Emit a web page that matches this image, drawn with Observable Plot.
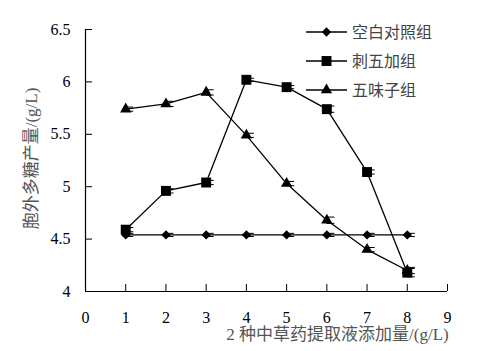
<!DOCTYPE html>
<html>
<head>
<meta charset="utf-8">
<script src="https://cdn.jsdelivr.net/npm/d3@7"></script>
<script src="https://cdn.jsdelivr.net/npm/@observablehq/plot@0.6"></script>
<style>
  body { margin: 0; background: #fff; }
  #wrap { position: relative; width: 484px; height: 351px; }
  #legend { position: absolute; left: 300px; top: 18px; }
</style>
</head>
<body>
<div id="wrap"><div id="chart"></div><div id="legend"></div></div>
<script>
const xValues = [1, 2, 3, 4, 5, 6, 7, 8];
const seriesNames = ["空白对照组", "刺五加组", "五味子组"];
const controlValues = [4.54, 4.54, 4.54, 4.54, 4.54, 4.54, 4.54, 4.54];
const ciwujiaValues = [4.59, 4.96, 5.04, 6.02, 5.95, 5.74, 5.14, 4.18];
const wuweiziValues = [5.74, 5.79, 5.90, 5.49, 5.03, 4.68, 4.40, 4.20];
const controlErr = [0.015, 0.015, 0.015, 0.015, 0.015, 0.015, 0.015, 0.015];
const ciwujiaErr = [0.02, 0.02, 0.02, 0.015, 0.015, 0.03, 0.02, 0.04];
const wuweiziErr = [0.02, 0.025, 0.025, 0.02, 0.02, 0.03, 0.02, 0.03];
const xTicks = [0, 1, 2, 3, 4, 5, 6, 7, 8, 9];
const yTicks = [4, 4.5, 5, 5.5, 6, 6.5];
const xLabel = "2 种中草药提取液添加量/(g/L)";
const yLabel = "胞外多糖产量/(g/L)";
const symbols = ["diamond2", "square", "triangle"];
const radii = [4.2, 5.6, 4.2];

const valuesList = [controlValues, ciwujiaValues, wuweiziValues];
const errList = [controlErr, ciwujiaErr, wuweiziErr];
const data = [];
seriesNames.forEach((s, i) => {
  xValues.forEach((x, j) => {
    data.push({series: s, idx: i, x, y: valuesList[i][j], e: errList[i][j]});
  });
});

const serif = "'Liberation Serif', 'Times New Roman', serif";
const cjk = "'Liberation Serif', 'Noto Sans CJK SC', serif";

const marks = [
  Plot.ruleY([4], {stroke: "#000", strokeWidth: 1.2}),
  Plot.ruleX([0], {stroke: "#000", strokeWidth: 1.2}),
  Plot.axisX({ticks: xTicks.filter(d => d > 0), tickSize: -7, text: null, stroke: "#000"}),
  Plot.axisX({ticks: xTicks, tickSize: 0, tickPadding: 20, tickFormat: d => String(d),
              fontSize: 16, fontFamily: serif, fill: "#000", label: null}),
  Plot.axisY({ticks: yTicks, tickSize: -7, text: null, stroke: "#000"}),
  Plot.axisY({ticks: yTicks, tickSize: 0, tickPadding: 15, tickFormat: d => String(d),
              fontSize: 16, fontFamily: serif, fill: "#000", label: null}),
];
seriesNames.forEach((s, i) => {
  const d = data.filter(r => r.idx === i);
  marks.push(Plot.line(d, {x: "x", y: "y", stroke: "#000", strokeWidth: 1.3}));
  marks.push(Plot.ruleX(d, {x: "x", y1: r => r.y - r.e, y2: r => r.y + r.e, stroke: "#000", strokeWidth: 1}));
  marks.push(Plot.ruleY(d, {y: r => r.y + r.e, x1: "x", x2: r => r.x + 0.2, stroke: "#000", strokeWidth: 1}));
  marks.push(Plot.ruleY(d, {y: r => r.y - r.e, x1: "x", x2: r => r.x + 0.2, stroke: "#000", strokeWidth: 1}));
  marks.push(Plot.dot(d, {x: "x", y: "y", symbol: () => symbols[i], r: radii[i], fill: "#000", stroke: "none"}));
});
marks.push(Plot.text([xLabel], {frameAnchor: "bottom", textAnchor: "middle", lineAnchor: "middle",
  dy: 43, dx: 71, text: d => d, fontSize: 17, fontFamily: cjk, fill: "#555"}));
marks.push(Plot.text([yLabel], {frameAnchor: "left", textAnchor: "middle", lineAnchor: "middle",
  dx: -54, dy: -2, rotate: -90, text: d => d, fontSize: 17, fontFamily: cjk, fill: "#555"}));

const chart = Plot.plot({
  width: 484,
  height: 351,
  marginLeft: 85,
  marginRight: 37,
  marginTop: 29,
  marginBottom: 60,
  x: {domain: [0, 9], label: null},
  y: {domain: [4, 6.5], label: null},
  style: {background: "#fff", overflow: "visible"},
  marks
});
document.getElementById("chart").appendChild(chart);

// legend
const lg = d3.select("#legend").append("svg").attr("width", 180).attr("height", 90);
seriesNames.forEach((s, i) => {
  const g = lg.append("g").attr("transform", `translate(0, ${14 + i * 29})`);
  g.append("line").attr("x1", 6).attr("x2", 47).attr("y1", 0).attr("y2", 0).attr("stroke", "#000").attr("stroke-width", 1.3);
  const sym = {diamond2: d3.symbolDiamond2, square: d3.symbolSquare, triangle: d3.symbolTriangle}[symbols[i]];
  g.append("path").attr("transform", "translate(26.5,0)")
    .attr("d", d3.symbol(sym, Math.PI * radii[i] * radii[i])()).attr("fill", "#000");
  g.append("text").attr("x", 52).attr("y", 0).attr("dy", "0.36em")
    .attr("font-size", 16).attr("font-family", cjk).attr("fill", "#444").text(s);
});
</script>
</body>
</html>
